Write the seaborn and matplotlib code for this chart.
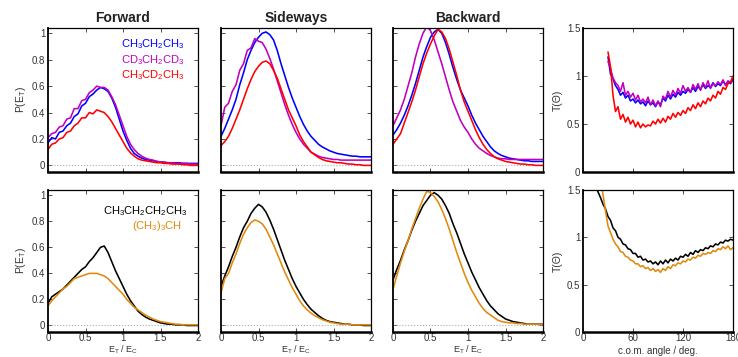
import numpy as np
import matplotlib
matplotlib.use("Agg")
import matplotlib.pyplot as plt
import seaborn as sns

sns.set_theme(style="ticks")
plt.rcParams['font.family'] = ['Liberation Sans', 'DejaVu Sans']
plt.rcParams['mathtext.default'] = 'regular'

# ---- data ----
energy = np.linspace(0, 2, 41)  # E_T / E_C grid, step 0.05

fwd_blue = [0.17, 0.21, 0.20, 0.25, 0.26, 0.30, 0.32, 0.37, 0.39, 0.45, 0.47, 0.52, 0.54, 0.57, 0.59, 0.58, 0.56, 0.51, 0.44, 0.35,
            0.26, 0.19, 0.13, 0.09, 0.07, 0.055, 0.045, 0.04, 0.035, 0.03, 0.025, 0.025, 0.02, 0.02, 0.02, 0.02, 0.015, 0.015, 0.015, 0.015, 0.015]
fwd_mag = [0.21, 0.24, 0.25, 0.29, 0.30, 0.35, 0.36, 0.43, 0.43, 0.49, 0.50, 0.55, 0.57, 0.60, 0.59, 0.59, 0.57, 0.52, 0.46, 0.38,
           0.30, 0.22, 0.16, 0.12, 0.09, 0.07, 0.055, 0.045, 0.04, 0.03, 0.025, 0.02, 0.02, 0.02, 0.015, 0.015, 0.015, 0.015, 0.01, 0.01, 0.01]
fwd_red = [0.12, 0.16, 0.17, 0.20, 0.21, 0.25, 0.26, 0.30, 0.32, 0.36, 0.36, 0.40, 0.39, 0.42, 0.41, 0.40, 0.37, 0.33, 0.28, 0.23,
           0.18, 0.13, 0.095, 0.07, 0.05, 0.04, 0.035, 0.03, 0.025, 0.02, 0.02, 0.015, 0.015, 0.01, 0.01, 0.01, 0.005, 0.005, 0.0, 0.0, 0.0]

side_blue = [0.22, 0.28, 0.35, 0.42, 0.50, 0.61, 0.70, 0.80, 0.87, 0.93, 0.97, 1.00, 1.01, 0.99, 0.95, 0.87, 0.77, 0.68, 0.59, 0.51,
             0.44, 0.37, 0.31, 0.26, 0.22, 0.19, 0.16, 0.14, 0.125, 0.11, 0.10, 0.09, 0.085, 0.08, 0.075, 0.07, 0.07, 0.065, 0.065, 0.065, 0.065]
side_mag = [0.30, 0.44, 0.47, 0.56, 0.61, 0.72, 0.77, 0.87, 0.89, 0.96, 0.94, 0.93, 0.88, 0.81, 0.73, 0.64, 0.55, 0.46, 0.38, 0.31,
            0.25, 0.20, 0.16, 0.13, 0.10, 0.085, 0.07, 0.06, 0.055, 0.05, 0.045, 0.045, 0.04, 0.04, 0.04, 0.04, 0.04, 0.04, 0.04, 0.04, 0.04]
side_red = [0.15, 0.18, 0.22, 0.28, 0.35, 0.42, 0.50, 0.58, 0.65, 0.71, 0.75, 0.78, 0.79, 0.77, 0.72, 0.66, 0.58, 0.50, 0.42, 0.36,
            0.30, 0.23, 0.18, 0.14, 0.10, 0.08, 0.06, 0.045, 0.035, 0.03, 0.025, 0.02, 0.02, 0.015, 0.01, 0.01, 0.005, 0.005, 0.0, 0.0, 0.0]

back_blue = [0.23, 0.27, 0.32, 0.38, 0.45, 0.53, 0.62, 0.72, 0.82, 0.90, 0.97, 1.01, 1.03, 1.00, 0.93, 0.84, 0.74, 0.65, 0.57, 0.51,
             0.45, 0.38, 0.32, 0.27, 0.22, 0.18, 0.14, 0.11, 0.09, 0.075, 0.065, 0.055, 0.05, 0.045, 0.04, 0.035, 0.035, 0.03, 0.03, 0.03, 0.03]
back_mag = [0.30, 0.36, 0.42, 0.50, 0.60, 0.70, 0.82, 0.92, 1.00, 1.05, 1.02, 0.95, 0.86, 0.77, 0.67, 0.57, 0.48, 0.41, 0.34, 0.29,
            0.25, 0.20, 0.16, 0.13, 0.11, 0.09, 0.075, 0.065, 0.055, 0.05, 0.05, 0.045, 0.045, 0.045, 0.045, 0.045, 0.045, 0.045, 0.045, 0.045, 0.045]
back_red = [0.16, 0.20, 0.24, 0.32, 0.40, 0.48, 0.57, 0.67, 0.77, 0.85, 0.92, 0.98, 1.03, 1.01, 0.96, 0.88, 0.78, 0.68, 0.57, 0.48,
            0.41, 0.34, 0.27, 0.21, 0.16, 0.12, 0.09, 0.065, 0.05, 0.04, 0.03, 0.025, 0.02, 0.015, 0.01, 0.01, 0.005, 0.005, 0.0, 0.0, 0.0]

fwd_black = [0.17, 0.22, 0.24, 0.26, 0.28, 0.31, 0.34, 0.37, 0.40, 0.43, 0.45, 0.49, 0.52, 0.56, 0.60, 0.61, 0.56, 0.49, 0.42, 0.36,
             0.30, 0.24, 0.19, 0.15, 0.11, 0.085, 0.065, 0.05, 0.04, 0.03, 0.02, 0.015, 0.01, 0.01, 0.005, 0.005, 0.005, 0.0, 0.0, 0.0, 0.0]
fwd_orange = [0.15, 0.19, 0.22, 0.25, 0.28, 0.30, 0.33, 0.36, 0.37, 0.38, 0.39, 0.40, 0.40, 0.40, 0.39, 0.38, 0.36, 0.33, 0.30, 0.27,
              0.24, 0.20, 0.17, 0.14, 0.12, 0.10, 0.08, 0.065, 0.05, 0.04, 0.03, 0.025, 0.02, 0.015, 0.01, 0.01, 0.005, 0.005, 0.005, 0.005, 0.005]

side_black = [0.30, 0.38, 0.45, 0.53, 0.60, 0.68, 0.75, 0.80, 0.86, 0.90, 0.93, 0.91, 0.87, 0.81, 0.74, 0.66, 0.58, 0.50, 0.43, 0.36,
              0.30, 0.25, 0.20, 0.16, 0.125, 0.10, 0.075, 0.055, 0.04, 0.03, 0.025, 0.02, 0.015, 0.01, 0.01, 0.005, 0.005, 0.005, 0.0, 0.0, 0.0]
side_orange = [0.25, 0.36, 0.40, 0.48, 0.55, 0.63, 0.70, 0.75, 0.79, 0.81, 0.80, 0.78, 0.74, 0.68, 0.62, 0.55, 0.48, 0.41, 0.35, 0.29,
               0.24, 0.19, 0.15, 0.12, 0.095, 0.075, 0.06, 0.045, 0.035, 0.025, 0.02, 0.015, 0.01, 0.01, 0.01, 0.005, 0.005, 0.005, 0.005, 0.005, 0.005]

back_black = [0.35, 0.43, 0.50, 0.58, 0.65, 0.73, 0.80, 0.86, 0.92, 0.96, 1.00, 1.02, 1.00, 0.97, 0.92, 0.86, 0.78, 0.71, 0.63, 0.55,
              0.48, 0.41, 0.35, 0.29, 0.24, 0.19, 0.15, 0.12, 0.09, 0.07, 0.05, 0.04, 0.03, 0.025, 0.02, 0.015, 0.01, 0.01, 0.01, 0.01, 0.01]
back_orange = [0.28, 0.38, 0.48, 0.57, 0.65, 0.74, 0.82, 0.90, 0.97, 1.03, 1.02, 0.99, 0.95, 0.89, 0.82, 0.74, 0.65, 0.56, 0.48, 0.40,
               0.33, 0.27, 0.22, 0.17, 0.13, 0.10, 0.08, 0.06, 0.04, 0.03, 0.025, 0.02, 0.02, 0.015, 0.015, 0.01, 0.01, 0.01, 0.01, 0.01, 0.01]

# T(theta) vs c.o.m. angle
angle_top = np.arange(30, 181, 3)
t_blue = [1.20, 1.02, 0.97, 0.90, 0.86, 0.80, 0.83, 0.77, 0.80, 0.74, 0.76, 0.72, 0.75, 0.71, 0.73, 0.69, 0.74, 0.70, 0.72, 0.68,
          0.73, 0.70, 0.77, 0.74, 0.80, 0.76, 0.81, 0.78, 0.83, 0.80, 0.84, 0.82, 0.86, 0.83, 0.88, 0.84, 0.89, 0.86, 0.91, 0.87,
          0.90, 0.88, 0.93, 0.89, 0.92, 0.90, 0.95, 0.91, 0.94, 0.92, 0.96]
t_mag = [1.15, 1.08, 0.98, 0.93, 0.90, 0.84, 0.93, 0.80, 0.84, 0.78, 0.82, 0.75, 0.80, 0.73, 0.76, 0.72, 0.78, 0.70, 0.75, 0.69,
         0.74, 0.68, 0.79, 0.76, 0.84, 0.78, 0.85, 0.80, 0.87, 0.82, 0.90, 0.84, 0.88, 0.83, 0.91, 0.86, 0.92, 0.85, 0.93, 0.88,
         0.95, 0.87, 0.92, 0.90, 0.94, 0.91, 0.96, 0.90, 0.95, 0.93, 0.97]
t_red = [1.25, 1.10, 0.80, 0.63, 0.68, 0.55, 0.60, 0.52, 0.57, 0.50, 0.54, 0.47, 0.52, 0.46, 0.50, 0.47, 0.49, 0.48, 0.53, 0.50,
         0.55, 0.51, 0.56, 0.52, 0.58, 0.55, 0.61, 0.57, 0.62, 0.59, 0.64, 0.61, 0.67, 0.64, 0.70, 0.66, 0.72, 0.68, 0.74, 0.71,
         0.77, 0.74, 0.80, 0.77, 0.84, 0.81, 0.88, 0.86, 0.92, 0.94, 1.00]

angle_bot = np.arange(15, 181, 3)
t_black = [1.55, 1.48, 1.42, 1.35, 1.30, 1.22, 1.18, 1.10, 1.07, 1.00, 0.98, 0.93, 0.92, 0.88, 0.87, 0.83, 0.83, 0.79, 0.80, 0.76,
           0.77, 0.74, 0.75, 0.72, 0.74, 0.71, 0.75, 0.72, 0.76, 0.73, 0.77, 0.75, 0.78, 0.76, 0.80, 0.79, 0.82, 0.80, 0.84, 0.82,
           0.86, 0.84, 0.87, 0.86, 0.89, 0.88, 0.91, 0.90, 0.93, 0.92, 0.95, 0.94, 0.97, 0.96, 0.98, 0.97]
t_orange = [np.nan, np.nan, 1.65, 1.45, 1.28, 1.12, 1.05, 0.98, 0.93, 0.90, 0.85, 0.84, 0.80, 0.79, 0.76, 0.75, 0.72, 0.72, 0.69, 0.70,
            0.67, 0.68, 0.65, 0.67, 0.64, 0.66, 0.63, 0.67, 0.65, 0.69, 0.67, 0.71, 0.70, 0.73, 0.72, 0.75, 0.74, 0.77, 0.76, 0.79,
            0.78, 0.81, 0.80, 0.83, 0.82, 0.84, 0.83, 0.86, 0.85, 0.88, 0.87, 0.90, 0.88, 0.91, 0.87, 0.89]

BLUE, MAG, RED = '#0000ff', '#bf00bf', '#ff0000'
BLACK, ORANGE = '#000000', '#e08a0c'
TXT = '#333333'

W, H = 738, 357
fig = plt.figure(figsize=(W / 100, H / 100), dpi=100)

# (top, height) of each row, in pixels
rows = [(28, 144), (190, 142)]


def make_ax(left, top, h):
    ax = fig.add_axes([left / W, 1 - (top + h) / H, 150 / W, h / H])
    ax.tick_params(direction='in', top=True, right=True, length=3, width=0.6,
                   labelsize=7, pad=2, colors=TXT)
    ax.tick_params(axis='x', pad=1)
    for s in ax.spines.values():
        s.set_linewidth(0.9)
        s.set_color('black')
    ax.spines['bottom'].set_linewidth(1.8)
    ax.spines['left'].set_linewidth(1.3)
    return ax


def bottom_label(ax, text, size, h):
    # x label pinned to the lower edge of the figure
    ax.set_xlabel(text, fontsize=size, color=TXT)
    ax.xaxis.label.set_va('bottom')
    ax.xaxis.set_label_coords(0.5, -(H - 190 - h - 0.7) / h)


def line(ax, x, y, c):
    sns.lineplot(x=x, y=y, ax=ax, color=c, lw=1.15, estimator=None, sort=False)


lefts = [48, 221, 393]
titles = ["Forward", "Sideways", "Backward"]
top_sets = [(fwd_blue, fwd_mag, fwd_red), (side_blue, side_mag, side_red), (back_blue, back_mag, back_red)]
bot_sets = [(fwd_black, fwd_orange), (side_black, side_orange), (back_black, back_orange)]

for i in range(3):
    for row, (top, h) in enumerate(rows):
        ax = make_ax(lefts[i], top, h)
        ax.axhline(0, color='#aaaaaa', ls=':', lw=0.8)
        if row == 0:
            for y, c in zip(top_sets[i], [BLUE, MAG, RED]):
                line(ax, energy, y, c)
            ax.set_title(titles[i], fontweight='bold', fontsize=10, pad=4, color='#222222')
        else:
            for y, c in zip(bot_sets[i], [BLACK, ORANGE]):
                line(ax, energy, y, c)
        ax.set_xlim(0, 2)
        ax.set_ylim(-0.05, 1.04)
        ax.set_xticks([0, 0.5, 1, 1.5, 2])
        ax.set_yticks([0, 0.2, 0.4, 0.6, 0.8, 1])
        if row == 1:
            ax.set_xticklabels(["0", "0.5", "1", "1.5", "2"])
            bottom_label(ax, "E$_T$ / E$_C$", 6.5, h)
        else:
            ax.set_xticklabels([])
        if i == 0:
            ax.set_yticklabels(["0", "0.2", "0.4", "0.6", "0.8", "1"])
            ax.set_ylabel("P(E$_T$)", fontsize=7.5, color=TXT, labelpad=3)
        else:
            ax.set_yticklabels([])
        if i == 0 and row == 0:
            ax.text(1.82, 0.92, "CH$_3$CH$_2$CH$_3$", color=BLUE, fontsize=8, ha='right', va='center')
            ax.text(1.82, 0.80, "CD$_3$CH$_2$CD$_3$", color=MAG, fontsize=8, ha='right', va='center')
            ax.text(1.82, 0.68, "CH$_3$CD$_2$CH$_3$", color=RED, fontsize=8, ha='right', va='center')
        if i == 0 and row == 1:
            ax.text(1.86, 0.88, "CH$_3$CH$_2$CH$_2$CH$_3$", color=BLACK, fontsize=8, ha='right', va='center')
            ax.text(1.79, 0.76, "(CH$_3$)$_3$CH", color=ORANGE, fontsize=8, ha='right', va='center')

# T(theta) panels
for row, (top, h) in enumerate(rows):
    ax = make_ax(583, top, h)
    if row == 0:
        line(ax, angle_top, t_blue, BLUE)
        line(ax, angle_top, t_mag, MAG)
        line(ax, angle_top, t_red, RED)
    else:
        line(ax, angle_bot, t_black, BLACK)
        line(ax, angle_bot, t_orange, ORANGE)
    ax.set_xlim(0, 180)
    ax.set_ylim(0, 1.5)
    ax.set_xticks([0, 60, 120, 180])
    ax.set_yticks([0, 0.5, 1, 1.5])
    ax.set_yticklabels(["0", "0.5", "1", "1.5"])
    ax.set_ylabel("T(\u0398)", fontsize=7.5, color=TXT, labelpad=3)
    if row == 1:
        ax.set_xticklabels(["0", "60", "120", "180"])
        bottom_label(ax, "c.o.m. angle / deg.", 7, h)
    else:
        ax.set_xticklabels([])

fig.savefig("out.png", dpi=100)
